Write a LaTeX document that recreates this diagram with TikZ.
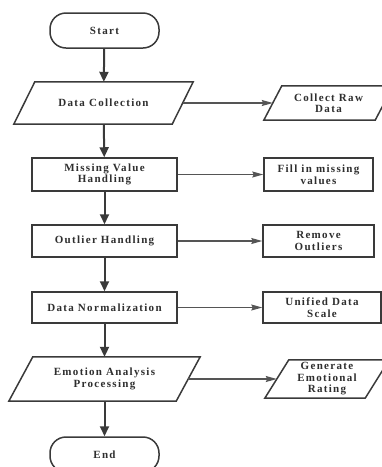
\documentclass[tikz,border=0pt]{standalone}
\usepackage{fontspec}
\newfontfamily\lblfont{Liberation Serif}[LetterSpace=12]
\usetikzlibrary{arrows.meta}
\definecolor{boxc}{HTML}{3A3A3A}
\definecolor{txtc}{HTML}{2E2E2E}
\definecolor{harr}{HTML}{555555}
\newcommand\paral[2]{\draw[boxline] ([xshift=#2]#1.north west) -- ([xshift=#2]#1.north east) -- ([xshift=-#2]#1.south east) -- ([xshift=-#2]#1.south west) -- cycle;}
\begin{document}
\begin{tikzpicture}[x=1pt,y=-1pt,
  boxline/.style={draw=boxc,line width=1.5pt,line join=miter},
  lbl/.style={inner sep=0pt,align=center,text=txtc,font=\lblfont\bfseries\fontsize{11}{11.5}\selectfont},
  rbox/.style={lbl,boxline,minimum width=#1},
  pbox/.style={lbl,minimum width=#1},
  term/.style={lbl,boxline,rounded corners=16pt,minimum width=109pt,minimum height=35pt},
  varr/.style={draw=boxc,line width=2pt,-{Triangle[length=10pt,width=9pt]}},
  harrow/.style={draw=harr,line width=1.2pt,-{Stealth[length=11pt,width=6pt,inset=1.5pt]}}]
\useasboundingbox (0,0) rectangle (382,467);
% main column
\node[term] (start) at (104.5,30.5) {Start};
\node[pbox=158pt,minimum height=42pt] (dc) at (103.5,103) {Data Collection};
\paral{dc}{10.5pt}
\node[rbox=145pt,minimum height=33pt] (mvh) at (104.5,174.5) {Missing Value\\Handling};
\node[rbox=145pt,minimum height=32pt] (oh) at (104.5,241) {Outlier Handling};
\node[rbox=145pt,minimum height=31pt] (dn) at (104.5,307.5) {Data Normalization};
\node[pbox=167pt,minimum height=44pt] (eap) at (104.5,379) {Emotion Analysis\\Processing};
\paral{eap}{12pt}
\node[term] (end) at (104.5,454.5) {End};
% side column
\node[pbox=111pt,minimum height=34pt] (crd) at (328.5,103) {Collect Raw\\Data};
\paral{crd}{9pt}
\node[rbox=109pt,minimum height=33pt] (fimv) at (318.5,174.5) {Fill in missing\\values};
\node[rbox=111pt,minimum height=32pt] (ro) at (318.5,241) {Remove\\Outliers};
\node[rbox=118pt,minimum height=31pt] (uds) at (322,307.5) {Unified Data\\Scale};
\node[pbox=100pt,minimum height=38pt] (ger) at (327,379) {Generate\\Emotional\\Rating};
\paral{ger}{12pt}
% vertical arrows
\draw[varr] (start) -- (dc);
\draw[varr] (dc) -- (mvh);
\draw[varr] (mvh) -- (oh);
\draw[varr] (oh) -- (dn);
\draw[varr] (dn) -- (eap);
\draw[varr] (eap) -- (end);
% horizontal arrows
\draw[harrow] (dc.east) -- (crd.west);
\draw[harrow] (mvh.east) -- (fimv.west);
\draw[harrow] (oh.east) -- (ro.west);
\draw[harrow] (dn.east) -- (uds.west);
\draw[harrow] (eap.east) -- (ger.west);
\end{tikzpicture}
\end{document}
